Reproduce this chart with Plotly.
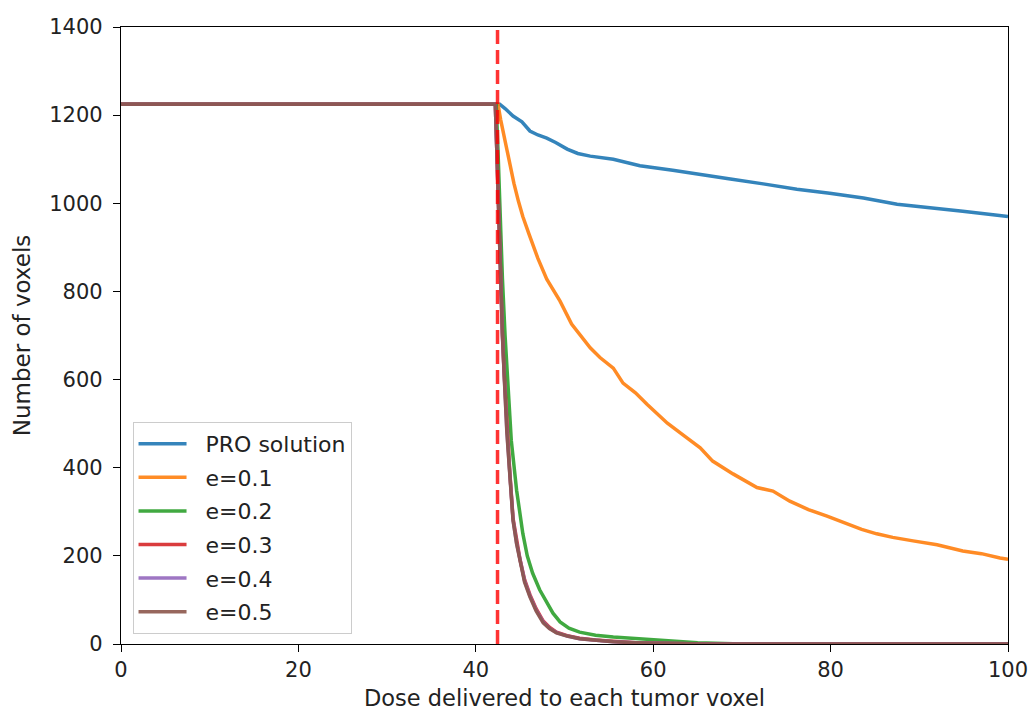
import plotly.graph_objects as go

# ---------------- data ----------------
red_line_x = 42.45

pro_x = [0, 42.7, 43.3, 44.2, 45.2, 46.1, 47.0, 48.0, 49.0, 50.3, 51.5, 52.9, 55.5, 58.5,
         62.2, 64.9, 68.7, 72.4, 76.2, 79.9, 83.7, 87.5, 91.2, 94.9, 98.8, 100]
pro_y = [1225, 1225, 1215, 1198, 1185, 1164, 1155, 1148, 1138, 1123, 1113, 1107, 1100, 1085,
         1075, 1066, 1055, 1044, 1032, 1023, 1012, 998, 989, 982, 973, 970]

e1_x = [0, 42.5, 42.8, 43.3, 43.8, 44.3, 44.8, 45.3, 46.0, 47.0, 48.0, 48.8, 49.5, 50.8, 52.0,
        52.9, 54.0, 55.5, 56.6, 58.0, 59.3, 60.5, 61.6, 63.5, 65.3, 66.7, 69.0, 71.7, 73.5,
        75.4, 77.5, 79.6, 81.8, 83.5, 85.2, 87.0, 89.3, 92.0, 94.9, 97.0, 99.1, 100]
e1_y = [1225, 1225, 1190, 1140, 1090, 1045, 1005, 970, 930, 875, 828, 800, 778, 726, 695,
        672, 650, 626, 592, 570, 544, 522, 501, 472, 445, 415, 386, 355, 347,
        324, 305, 290, 272, 260, 250, 242, 234, 225, 211, 205, 195, 192]

e2_x = [0, 42.3, 42.5, 42.7, 43.0, 43.3, 43.6, 44.0, 44.6, 45.3, 45.8, 46.4, 47.2, 48.0,
        48.7, 49.5, 50.5, 51.7, 53.5, 55.5, 57.5, 59.6, 62, 65, 70, 100]
e2_y = [1225, 1225, 1120, 1000, 830, 700, 590, 462, 349, 251, 200, 161, 123, 93,
        70, 50, 36, 27, 20, 16, 13, 10, 6, 3, 0, 0]

e3_x = [0, 42.2, 42.4, 42.6, 42.8, 43.0, 43.2, 43.5, 43.85, 44.2, 44.6, 45.0, 45.5, 46.1,
        46.8, 47.6, 48.3, 49.1, 50.3, 51.7, 53.5, 55.5, 58, 62, 66, 100]
e3_y = [1225, 1225, 1100, 955, 825, 705, 615, 490, 385, 285, 232, 190, 146, 112,
        80, 52, 38, 27, 19, 13, 9, 6, 3, 1, 0, 0]

e4_x = [0, 42.2, 42.4, 42.6, 42.8, 43.0, 43.2, 43.5, 43.85, 44.2, 44.6, 45.0, 45.5, 46.1,
        46.8, 47.6, 48.3, 49.1, 50.3, 51.7, 53.5, 55.5, 58, 62, 66, 100]
e4_y = [1225, 1225, 1100, 952, 822, 702, 612, 485, 382, 282, 229, 187, 143, 109,
        77, 50, 36, 26, 18, 12, 8, 5, 3, 1, 0, 0]

e5_x = [0, 42.2, 42.4, 42.6, 42.8, 43.0, 43.2, 43.5, 43.85, 44.2, 44.6, 45.0, 45.5, 46.1,
        46.8, 47.6, 48.3, 49.1, 50.3, 51.7, 53.5, 55.5, 58, 62, 66, 100]
e5_y = [1225, 1225, 1100, 950, 820, 700, 610, 480, 380, 280, 227, 184, 140, 107,
        75, 48, 35, 25, 18, 12, 8, 5, 3, 1, 0, 0]

names = ["PRO solution", "e=0.1", "e=0.2", "e=0.3", "e=0.4", "e=0.5"]
colors = ["#1f77b4", "#ff7f0e", "#2ca02c", "#d62728", "#9467bd", "#8c564b"]

x_ticks = [0, 20, 40, 60, 80, 100]
y_ticks = [0, 200, 400, 600, 800, 1000, 1200, 1400]

# ---------------- figure ----------------
fig = go.Figure()
series = [(pro_x, pro_y), (e1_x, e1_y), (e2_x, e2_y), (e3_x, e3_y), (e4_x, e4_y), (e5_x, e5_y)]
for i, ((xs, ys), nm, c) in enumerate(zip(series, names, colors)):
    fig.add_trace(go.Scatter(x=xs, y=ys, mode="lines", name="\u00a0\u00a0" + nm,
                             legendgroup="g%d" % i,
                             line=dict(color=c, width=3.5), opacity=0.9))

fig.add_trace(go.Scatter(x=[red_line_x, red_line_x], y=[0, 1400], mode="lines",
                         showlegend=False,
                         line=dict(color="rgba(255,0,0,0.8)", width=3.5, dash="14px,6px")))

font = "DejaVu Sans, sans-serif"
axis_common = dict(showgrid=False, zeroline=False, showline=True, linecolor="#000",
                   linewidth=1.3, mirror=True, ticks="outside", ticklen=7, tickwidth=1.3,
                   tickcolor="#000", automargin=False, ticklabeloverflow="allow",
                   tickfont=dict(family=font, size=21, color="#222"))

fig.update_layout(
    width=1028, height=711,
    margin=dict(l=121, r=20, t=27, b=67),
    paper_bgcolor="white", plot_bgcolor="white",
    showlegend=True,
    legend=dict(x=0.013, y=0.36, xanchor="left", yanchor="top",
                bgcolor="rgba(255,255,255,0.8)", bordercolor="#cccccc", borderwidth=1,
                font=dict(family=font, size=22, color="#222"), itemwidth=48,
                tracegroupgap=2),
    xaxis=dict(range=[0, 100], tickvals=x_ticks, ticklabelstandoff=0,
               title=dict(text="Dose delivered to each tumor voxel",
                          font=dict(family=font, size=22.5, color="#222"), standoff=9),
               **axis_common),
    yaxis=dict(range=[0, 1400], tickvals=y_ticks, ticklabelstandoff=6,
               title=dict(text="Number of voxels",
                          font=dict(family=font, size=23, color="#222"), standoff=12),
               **axis_common),
)

fig.write_html("out.html")
